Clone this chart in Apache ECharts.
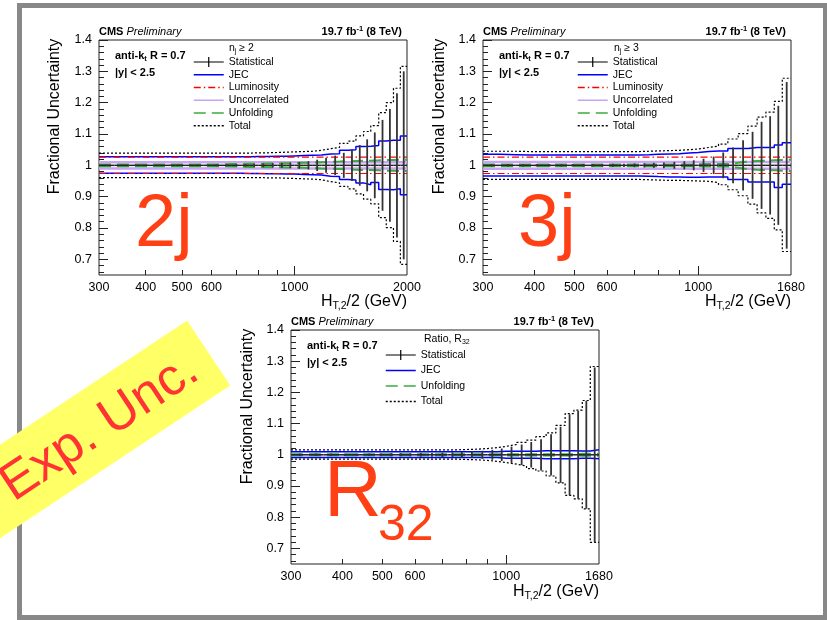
<!DOCTYPE html>
<html>
<head>
<meta charset="utf-8">
<script src="https://cdn.jsdelivr.net/npm/echarts@6/dist/echarts.min.js"></script>
<style>html,body{margin:0;padding:0;background:#fff}#c{width:827px;height:620px}</style>
</head>
<body>
<div id="c"></div>
<script>
// ---------------- DATA ----------------
const edges2 = [300,330,360,390,420,450,480,510,540,570,600,640,680,720,760,800,850,900,950,1000,1060,1120,1180,1250,1320,1390,1460,1530,1600,1680,1760,1840,1920,2000];
const edges3 = [300,330,360,390,420,450,480,510,540,570,600,640,680,720,760,800,850,900,950,1000,1060,1120,1180,1250,1320,1390,1460,1530,1600,1680];

// 2-jet (n_j >= 2) fractional uncertainties
const stat2  = [0.002,0.002,0.002,0.002,0.002,0.002,0.002,0.002,0.002,0.0025,0.003,0.003,0.0035,0.004,0.005,0.006,0.007,0.008,0.009,0.011,0.013,0.018,0.024,0.031,0.040,0.050,0.065,0.083,0.105,0.145,0.180,0.230,0.300];
const jecU2  = [0.027,0.027,0.027,0.027,0.027,0.027,0.027,0.027,0.027,0.027,0.027,0.027,0.027,0.027,0.028,0.028,0.029,0.029,0.030,0.031,0.032,0.033,0.036,0.037,0.048,0.050,0.060,0.061,0.063,0.078,0.080,0.080,0.094];
const jecD2  = [0.025,0.025,0.025,0.025,0.025,0.025,0.025,0.025,0.025,0.025,0.025,0.025,0.025,0.026,0.026,0.027,0.027,0.028,0.028,0.029,0.030,0.031,0.035,0.036,0.045,0.047,0.056,0.062,0.055,0.077,0.078,0.075,0.094];
const lumi2  = [0.026,0.026,0.026,0.026,0.026,0.026,0.026,0.026,0.026,0.026,0.026,0.026,0.026,0.026,0.026,0.026,0.026,0.026,0.026,0.026,0.026,0.026,0.026,0.026,0.026,0.026,0.026,0.026,0.026,0.026,0.026,0.026,0.026];
const unc2   = [0.010,0.010,0.010,0.010,0.010,0.010,0.010,0.010,0.010,0.010,0.010,0.010,0.010,0.010,0.010,0.010,0.010,0.010,0.010,0.010,0.010,0.010,0.010,0.010,0.010,0.010,0.010,0.010,0.010,0.010,0.010,0.010,0.010];
const unf2   = [0.003,0.003,0.003,0.003,0.003,0.003,0.003,0.003,0.003,0.003,0.003,0.004,0.004,0.005,0.005,0.006,0.006,0.007,0.007,0.008,0.009,0.010,0.011,0.012,0.013,0.014,0.015,0.015,0.016,0.017,0.017,0.018,0.018];
const totU2  = [0.039,0.039,0.039,0.039,0.039,0.039,0.039,0.039,0.039,0.039,0.039,0.039,0.039,0.039,0.040,0.040,0.041,0.042,0.043,0.044,0.045,0.048,0.053,0.057,0.070,0.077,0.094,0.108,0.127,0.168,0.200,0.246,0.316];
const totD2  = [0.039,0.039,0.039,0.039,0.039,0.039,0.039,0.039,0.039,0.039,0.039,0.039,0.039,0.039,0.039,0.040,0.040,0.041,0.042,0.043,0.044,0.046,0.052,0.056,0.067,0.075,0.091,0.108,0.123,0.167,0.199,0.243,0.316];

// 3-jet (n_j >= 3)
const stat3  = [0.004,0.004,0.004,0.004,0.004,0.004,0.004,0.004,0.004,0.004,0.005,0.005,0.006,0.007,0.008,0.009,0.011,0.013,0.016,0.021,0.028,0.041,0.057,0.080,0.107,0.139,0.157,0.190,0.266];
const jecU3  = [0.035,0.034,0.033,0.033,0.033,0.033,0.033,0.033,0.033,0.033,0.033,0.033,0.033,0.034,0.035,0.036,0.037,0.039,0.041,0.044,0.046,0.046,0.054,0.054,0.057,0.057,0.057,0.065,0.072];
const jecD3  = [0.034,0.034,0.034,0.034,0.034,0.034,0.034,0.034,0.034,0.034,0.034,0.034,0.034,0.035,0.036,0.037,0.037,0.038,0.038,0.037,0.037,0.037,0.045,0.045,0.053,0.053,0.053,0.071,0.060];
const lumi3  = [0.026,0.026,0.026,0.026,0.026,0.026,0.026,0.026,0.026,0.026,0.026,0.026,0.026,0.026,0.026,0.026,0.026,0.026,0.026,0.026,0.026,0.026,0.026,0.026,0.026,0.026,0.026,0.026,0.026];
const unc3   = [0.011,0.011,0.011,0.011,0.011,0.011,0.011,0.011,0.011,0.011,0.011,0.011,0.011,0.011,0.011,0.011,0.011,0.011,0.011,0.011,0.011,0.011,0.011,0.011,0.011,0.011,0.011,0.011,0.011];
const unf3   = [0.003,0.003,0.003,0.003,0.003,0.003,0.003,0.003,0.003,0.003,0.003,0.003,0.003,0.003,0.003,0.003,0.003,0.003,0.003,0.004,0.004,0.004,0.008,0.012,0.014,0.015,0.016,0.017,0.018];
const totU3  = [0.045,0.045,0.044,0.044,0.044,0.044,0.044,0.044,0.044,0.044,0.044,0.044,0.044,0.045,0.046,0.047,0.048,0.050,0.052,0.057,0.061,0.068,0.084,0.101,0.125,0.154,0.170,0.204,0.278];
const totD3  = [0.045,0.045,0.045,0.045,0.045,0.045,0.045,0.045,0.045,0.045,0.045,0.045,0.045,0.046,0.047,0.048,0.048,0.049,0.050,0.051,0.055,0.062,0.078,0.097,0.124,0.152,0.169,0.206,0.275];

// Ratio R32
const statR  = [0.004,0.004,0.004,0.004,0.004,0.004,0.005,0.005,0.005,0.005,0.006,0.006,0.007,0.008,0.009,0.011,0.013,0.016,0.020,0.026,0.033,0.041,0.050,0.066,0.090,0.130,0.141,0.173,0.280];
const jecUR  = [0.010,0.010,0.010,0.010,0.010,0.010,0.010,0.010,0.010,0.010,0.010,0.010,0.010,0.010,0.010,0.010,0.010,0.010,0.011,0.011,0.011,0.011,0.013,0.013,0.013,0.013,0.012,0.012,0.016];
const jecDR  = [0.009,0.009,0.009,0.009,0.009,0.009,0.009,0.009,0.009,0.009,0.009,0.009,0.009,0.009,0.009,0.009,0.009,0.009,0.011,0.011,0.011,0.011,0.013,0.013,0.013,0.013,0.011,0.011,0.013];
const unfR   = [0.002,0.002,0.002,0.002,0.002,0.002,0.002,0.002,0.002,0.002,0.002,0.002,0.002,0.002,0.002,0.002,0.002,0.002,0.002,0.002,0.002,0.002,0.002,0.002,0.002,0.002,0.003,0.003,0.003];
const totUR  = [0.016,0.016,0.016,0.016,0.016,0.016,0.016,0.016,0.016,0.016,0.016,0.016,0.016,0.016,0.017,0.018,0.020,0.023,0.027,0.033,0.040,0.047,0.058,0.070,0.094,0.132,0.143,0.174,0.283];
const totDR  = [0.014,0.014,0.014,0.014,0.014,0.014,0.014,0.014,0.014,0.014,0.014,0.014,0.014,0.014,0.015,0.016,0.018,0.021,0.025,0.030,0.036,0.044,0.052,0.068,0.090,0.130,0.141,0.173,0.281];

// ticks
const xLabels2 = [300,400,500,600,1000,2000];
const xLabels3 = [300,400,500,600,1000,1680];
const xSmallTicks = [400,500,600,700,800,900];
const xBigTicks = [1000];
const yLabels = [0.7,0.8,0.9,1.0,1.1,1.2,1.3,1.4];
const yMinorTicks = [0.66,0.68,0.72,0.74,0.76,0.78,0.82,0.84,0.86,0.88,0.92,0.94,0.96,0.98,1.02,1.04,1.06,1.08,1.12,1.14,1.16,1.18,1.22,1.24,1.26,1.28,1.32,1.34,1.36,1.38];

// ---------------- CHART ----------------
const FONT = 'Liberation Sans, Arial, Helvetica, sans-serif';
const panels = [
  {left:99,  top:40,  width:308, height:235, xmax:2000, edges:edges2, xl:xLabels2,
   stat:stat2, jecU:jecU2, jecD:jecD2, lumi:lumi2, unc:unc2, unf:unf2, totU:totU2, totD:totD2},
  {left:483, top:40,  width:308, height:235, xmax:1680, edges:edges3, xl:xLabels3,
   stat:stat3, jecU:jecU3, jecD:jecD3, lumi:lumi3, unc:unc3, unf:unf3, totU:totU3, totD:totD3},
  {left:291, top:330, width:308, height:234, xmax:1680, edges:edges3, xl:xLabels3,
   stat:statR, jecU:jecUR, jecD:jecDR, lumi:null, unc:null, unf:unfR, totU:totUR, totD:totDR}
];

const grid = [], xAxis = [], yAxis = [], series = [];

function stepData(edges, vals, sign) {
  const d = vals.map((v, i) => [edges[i], 1 + sign * v]);
  d.push([edges[edges.length - 1], 1 + sign * vals[vals.length - 1]]);
  return d;
}

function statRender(params, api) {
  const lo = api.value(0), hi = api.value(1), s = api.value(2);
  const c = (lo + hi) / 2;
  const a = api.coord([lo, 1]), b = api.coord([hi, 1]);
  const t = api.coord([c, 1 + s]), u = api.coord([c, 1 - s]);
  return {type:'group', children:[
    {type:'line', shape:{x1:a[0], y1:a[1], x2:b[0], y2:b[1]}, style:{stroke:'#222', lineWidth:1.5}},
    {type:'line', shape:{x1:t[0], y1:t[1], x2:u[0], y2:u[1]}, style:{stroke:'#333', lineWidth:1.8}}
  ]};
}

panels.forEach((p, g) => {
  grid.push({left:p.left, top:p.top, width:p.width, height:p.height, show:true,
             borderColor:'#222', borderWidth:1, backgroundColor:'transparent'});
  const common = {type:'log', logBase:10, gridIndex:g, min:300, max:p.xmax, position:'bottom',
                  axisLine:{show:false}, splitLine:{show:false}, minorTick:{show:false}};
  xAxis.push(Object.assign({}, common, {
    axisTick:{show:true, inside:true, length:5, customValues:xSmallTicks, lineStyle:{color:'#222'}},
    axisLabel:{show:true, customValues:p.xl, formatter:v => String(Math.round(v)),
               fontFamily:FONT, fontSize:12.5, color:'#000', margin:6}
  }));
  xAxis.push(Object.assign({}, common, {
    axisTick:{show:true, inside:true, length:9, customValues:xBigTicks, lineStyle:{color:'#222'}},
    axisLabel:{show:false}
  }));
  const ycommon = {type:'value', gridIndex:g, min:0.65, max:1.4, position:'left',
                   axisLine:{show:false}, splitLine:{show:false}};
  yAxis.push(Object.assign({}, ycommon, {
    axisTick:{show:true, inside:true, length:9, customValues:yLabels, lineStyle:{color:'#222'}},
    axisLabel:{show:true, customValues:yLabels, formatter:v => String(Math.round(v*10)/10),
               fontFamily:FONT, fontSize:12.5, color:'#000', margin:7}
  }));
  yAxis.push(Object.assign({}, ycommon, {
    axisTick:{show:true, inside:true, length:5, customValues:yMinorTicks, lineStyle:{color:'#222'}},
    axisLabel:{show:false}
  }));
  const xi = 2*g, yi = 2*g;
  const line = (name, vals, sign, style, z) => series.push({
    name, type:'line', xAxisIndex:xi, yAxisIndex:yi, step:'end', symbol:'none',
    silent:true, animation:false, z:z || 2, clip:true,
    lineStyle:style, itemStyle:{color:style.color},
    data:stepData(p.edges, vals, sign)
  });
  const jecS = {color:'#0000ff', width:1.5, type:'solid'};
  const lumS = {color:'#ff0000', width:1.2, type:[7,3,1.5,3]};
  const uncS = {color:'#c9a3f5', width:2.5, type:'solid'};
  const unfS = {color:'#3daa3d', width:2, type:[12,6]};
  const totS = {color:'#000000', width:1.2, type:[2,2]};
  line('JEC', p.jecU, 1, jecS, 3); line('JEC', p.jecD, -1, jecS, 3);
  if (p.lumi) { line('Luminosity', p.lumi, 1, lumS, 4); line('Luminosity', p.lumi, -1, lumS, 4); }
  if (p.unc)  { line('Uncorrelated', p.unc, 1, uncS, 2); line('Uncorrelated', p.unc, -1, uncS, 2); }
  line('Unfolding', p.unf, 1, unfS, 4); line('Unfolding', p.unf, -1, unfS, 4);
  line('Total', p.totU, 1, totS, 3); line('Total', p.totD, -1, totS, 3);
  series.push({
    name:'Statistical', type:'custom', xAxisIndex:xi, yAxisIndex:yi, silent:true, animation:false,
    clip:true, z:5, itemStyle:{color:'#000'}, encode:{x:[0,1], y:2},
    renderItem:statRender,
    data:p.stat.map((s, i) => [p.edges[i], p.edges[i+1], s])
  });
});

const statIcon = 'path://M0,4.4h30v1.2H0z M14.4,0h1.2v10h-1.2z';
function legendAt(left, top, names, gap) {
  return {orient:'vertical', left, top, padding:0, itemWidth:30, itemHeight:10, itemGap:gap, selectedMode:false,
          itemStyle:{opacity:0},
          lineStyle:{width:1.5},
          textStyle:{fontFamily:FONT, fontSize:10.5, color:'#000', lineHeight:12},
          data:names.map(n => n === 'Statistical'
            ? {name:n, icon:statIcon, itemStyle:{opacity:1, color:'#000'}} : {name:n})};
}
const fullNames = ['Statistical','JEC','Luminosity','Uncorrelated','Unfolding','Total'];
const legend = [
  legendAt(193, 56, fullNames, 0.75),
  legendAt(577, 56, fullNames, 0.75),
  legendAt(385, 349, ['Statistical','JEC','Unfolding','Total'], 3.5)
];

// ---------------- TEXT / DECORATION ----------------
const rich = {
  b:{fontFamily:FONT, fontWeight:'bold', fontSize:11, fill:'#000'},
  i:{fontFamily:FONT, fontStyle:'italic', fontSize:11, fill:'#000'},
  bsub:{fontFamily:FONT, fontWeight:'bold', fontSize:7.5, verticalAlign:'bottom', fill:'#000'},
  bsup:{fontFamily:FONT, fontWeight:'bold', fontSize:7.5, verticalAlign:'top', fill:'#000'},
  n:{fontFamily:FONT, fontSize:10.5, fill:'#000'},
  nsub:{fontFamily:FONT, fontSize:7, verticalAlign:'bottom', fill:'#000'},
  t:{fontFamily:FONT, fontSize:16, fill:'#000'},
  tsub:{fontFamily:FONT, fontSize:10.5, verticalAlign:'bottom', fill:'#000'}
};
function txt(x, y, text, align, lh) {
  return {type:'text', x, y, silent:true, z:50,
    style:{text, rich, align:align || 'left', verticalAlign:'middle', lineHeight:lh || 14,
           fontFamily:FONT, fontSize:11, fill:'#000'}};
}
const graphics = [];
function panelTexts(p, dy, header, xTitleY, yTitleX, yTitleY) {
  const L = p.left, R = p.left + p.width;
  graphics.push(txt(L, dy + 32, '{b|CMS} {i|Preliminary}'));
  graphics.push(txt(R - 5, dy + 32, '{b|19.7 fb}{bsup|-1}{b| (8 TeV)}', 'right'));
  graphics.push(txt(L + 16, dy + 56, '{b|anti-k}{bsub|t}{b| R = 0.7}'));
  graphics.push(txt(L + 16, dy + 73, '{b||y| < 2.5}'));
  graphics.push(txt(header[0], header[1], header[2]));
  graphics.push(txt(R, xTitleY, '{t|H}{tsub|T,2}{t|/2 (GeV)}', 'right', 20));
  graphics.push({type:'text', x:yTitleX, y:yTitleY, rotation:Math.PI/2, silent:true, z:50,
    style:{text:'Fractional Uncertainty', fontFamily:FONT, fontSize:16, fill:'#000', align:'center', verticalAlign:'middle'}});
}
panelTexts(panels[0], 0, [229, 48, '{n|n}{nsub|j}{n| ≥ 2}'], 302, 55, 116.5);
panelTexts(panels[1], 0, [614, 48, '{n|n}{nsub|j}{n| ≥ 3}'], 302, 440, 116.5);
panelTexts(panels[2], 290, [424, 339, '{n|Ratio, R}{nsub|32}'], 592, 248, 406.5);

const big = (x, y, text, size) => ({type:'text', x, y, silent:true, z:40,
  style:{text, fontFamily:FONT, fontSize:size, fill:'#ff4014', align:'left', verticalAlign:'middle'}});
graphics.push(big(135, 226, '2j', 74));
graphics.push(big(518, 226, '3j', 74));
graphics.push(big(324, 494, 'R', 80));
graphics.push(big(378, 526, '32', 50));

// outer frame
graphics.push({type:'rect', silent:true, z:60, shape:{x:19.5, y:5.5, width:806, height:612},
  style:{fill:'none', stroke:'#888888', lineWidth:5}});
// banner
graphics.push({type:'group', x:67, y:447, rotation:0.586, z:100, silent:true, children:[
  {type:'rect', shape:{x:-170, y:-39, width:340, height:78}, style:{fill:'#ffff66'}, z:100},
  {type:'text', x:38, y:2, z:101, style:{text:'Exp. Unc.', fontFamily:FONT, fontSize:52, fill:'#ff3333',
     align:'center', verticalAlign:'middle'}}
]});

const chart = echarts.init(document.getElementById('c'), null, {renderer:'canvas'});
chart.setOption({
  animation:false, backgroundColor:'#ffffff',
  grid, xAxis, yAxis, legend, series, graphic:graphics
});
</script>
</body>
</html>
